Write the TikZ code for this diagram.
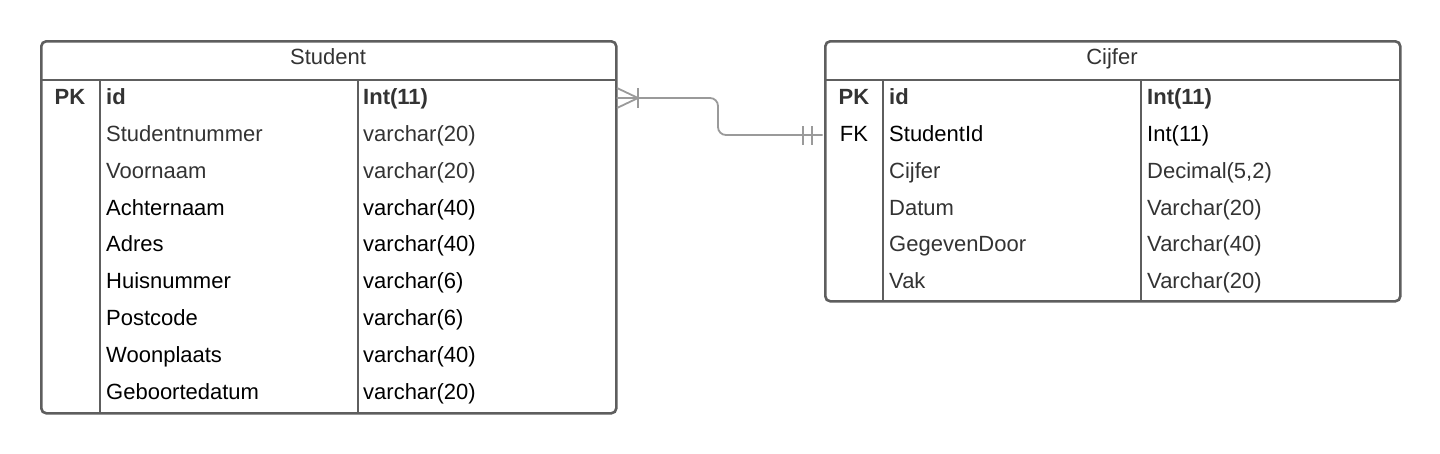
\documentclass[tikz,border=0pt]{standalone}
\usepackage{fontspec}
\setmainfont{Liberation Sans}
\definecolor{border}{HTML}{5E5E5E}
\definecolor{txtgray}{HTML}{333333}
\definecolor{linkgray}{HTML}{9A9A9A}
\begin{document}
\begin{tikzpicture}[x=1pt,y=-1pt,
  tablebox/.style={draw=border,line width=2.6pt,rounded corners=5pt,inner sep=0pt,anchor=north west},
  divider/.style={draw=border,line width=2.6pt},
  cell/.style={inner sep=0pt,anchor=base west,font=\fontsize{22}{26}\selectfont},
  boldcell/.style={cell,text=txtgray,font=\fontsize{22}{26}\selectfont\bfseries},
  keycell/.style={inner sep=0pt,anchor=base,font=\fontsize{22}{26}\selectfont},
  head/.style={inner sep=0pt,anchor=base,font=\fontsize{22}{26}\selectfont,text=txtgray},
  link/.style={draw=linkgray,line width=1.8pt}
]
\useasboundingbox (0,0) rectangle (1440,453);
% Student table
\node[tablebox,minimum width=575pt,minimum height=372pt] (student) at (40,40) {};
\draw[divider] (40,80) -- (615,80);
\draw[divider] (100,80) -- (100,412);
\draw[divider] (358,80) -- (358,412);
\node[head] (shead) at (328,64) {Student};
% Cijfer table
\node[tablebox,minimum width=575pt,minimum height=260pt] (cijfer) at (824,40) {};
\draw[divider] (824,80) -- (1399,80);
\draw[divider] (883,80) -- (883,300);
\draw[divider] (1141,80) -- (1141,300);
\node[head] (chead) at (1112,64) {Cijfer};
% Student rows
\node[keycell,text=txtgray,font=\fontsize{22}{26}\selectfont\bfseries] (spk) at (70,104) {PK};
\node[boldcell] (s1) at (106,104) {id};
\node[boldcell] (t1) at (363,104) {Int(11)};
\node[cell,text=txtgray] (s2) at (106,141) {Studentnummer};
\node[cell,text=txtgray] (t2) at (363,141) {varchar(20)};
\node[cell,text=txtgray] (s3) at (106,178) {Voornaam};
\node[cell,text=txtgray] (t3) at (363,178) {varchar(20)};
\node[cell] (s4) at (106,215) {Achternaam};
\node[cell] (t4) at (363,215) {varchar(40)};
\node[cell] (s5) at (106,251) {Adres};
\node[cell] (t5) at (363,251) {varchar(40)};
\node[cell] (s6) at (106,288) {Huisnummer};
\node[cell] (t6) at (363,288) {varchar(6)};
\node[cell] (s7) at (106,325) {Postcode};
\node[cell] (t7) at (363,325) {varchar(6)};
\node[cell] (s8) at (106,362) {Woonplaats};
\node[cell] (t8) at (363,362) {varchar(40)};
\node[cell] (s9) at (106,399) {Geboortedatum};
\node[cell] (t9) at (363,399) {varchar(20)};
% Cijfer rows
\node[keycell,text=txtgray,font=\fontsize{22}{26}\selectfont\bfseries] (cpk) at (854,104) {PK};
\node[boldcell] (c1) at (889,104) {id};
\node[boldcell] (u1) at (1147,104) {Int(11)};
\node[keycell] (cfk) at (854,141) {FK};
\node[cell] (c2) at (889,141) {StudentId};
\node[cell] (u2) at (1147,141) {Int(11)};
\node[cell,text=txtgray] (c3) at (889,178) {Cijfer};
\node[cell,text=txtgray] (u3) at (1147,178) {Decimal(5,2)};
\node[cell,text=txtgray] (c4) at (889,215) {Datum};
\node[cell,text=txtgray] (u4) at (1147,215) {Varchar(20)};
\node[cell,text=txtgray] (c5) at (889,251) {GegevenDoor};
\node[cell,text=txtgray] (u5) at (1147,251) {Varchar(40)};
\node[cell,text=txtgray] (c6) at (889,288) {Vak};
\node[cell,text=txtgray] (u6) at (1147,288) {Varchar(20)};
% connector
\coordinate (a) at (616.5,98);
\coordinate (b) at (822.5,135);
\draw[link,rounded corners=8pt] (a) -- (718,98) -- (718,135) -- (b);
% crow's foot (one or many) at Student
\draw[link] (617,88) -- (638,98) -- (617,108);
\draw[link] (638,88) -- (638,108);
% exactly one at Cijfer
\draw[link] (803,126) -- (803,145);
\draw[link] (812,126) -- (812,145);
\end{tikzpicture}
\end{document}
